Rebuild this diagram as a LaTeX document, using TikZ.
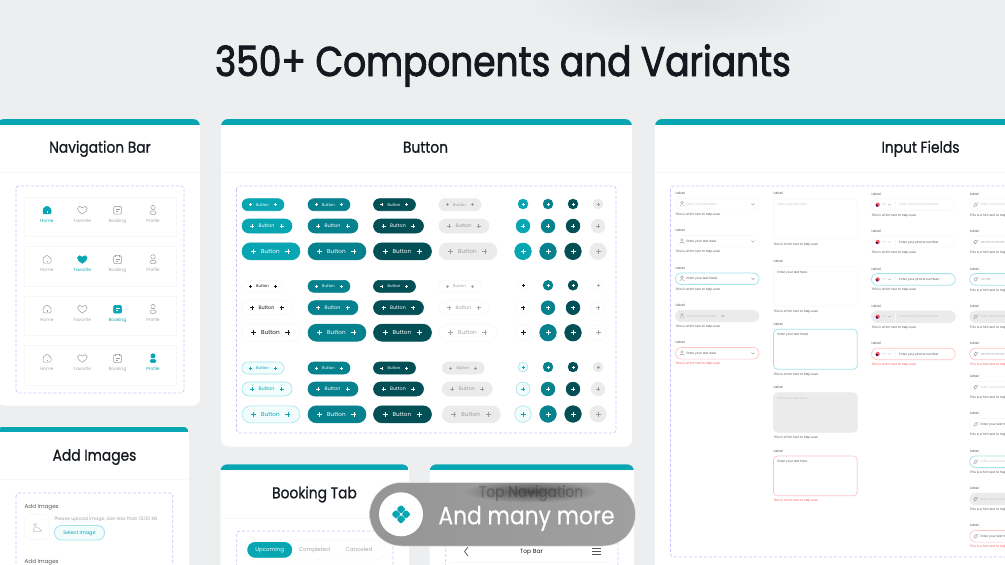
\documentclass[tikz,border=0pt]{standalone}
\usepackage{fontspec}
\usetikzlibrary{fadings}
\setmainfont{Poppins}
\newfontfamily\titlefont[FakeBold=2.2,FakeStretch=.865]{Poppins}
\newfontfamily\headfont[FakeBold=.9,FakeStretch=.88]{Poppins}
\newfontfamily\morefont[FakeBold=.3,FakeStretch=.87]{Poppins}
\definecolor{bgc}{HTML}{EDEEF0}
\definecolor{tealc}{HTML}{08A5B3}
\definecolor{midc}{HTML}{06828F}
\definecolor{darkc}{HTML}{024F55}
\definecolor{greyc}{HTML}{EBEBEB}
\definecolor{inkc}{HTML}{14181F}
\definecolor{dashc}{HTML}{D2BFFF}
\definecolor{softc}{HTML}{F8F8F8}
\definecolor{focc}{HTML}{A4E3E9}
\definecolor{errc}{HTML}{FFC6C6}
\definecolor{redc}{HTML}{F25B5B}
\definecolor{palec}{HTML}{F1FCFD}
\definecolor{mutec}{HTML}{A6A6A6}
\definecolor{lightc}{HTML}{C4C4C4}
\definecolor{iconc}{HTML}{9C9C9C}
\definecolor{textc}{HTML}{555555}
\definecolor{pillc}{HTML}{9F9F9F}
\tikzfading[name=softblob,inner color=transparent!0,outer color=transparent!100]
\newcount\nid
\newcommand\tx[6]{\global\advance\nid by 1\relax
  \node[inner sep=0pt,anchor=#1,text=#5,text height=#2*.7pt,text depth=0pt,font=\fontsize{#2}{#2}\selectfont] (t\the\nid) at (#3,#4) {#6};}
\tikzset{
  x=1pt,y=-1pt,
  zone/.style={draw=dashc,line width=.7pt,dash pattern=on 3pt off 2pt,rounded corners=3pt},
  icon1/.style={fill=tealc,draw=tealc,line width=.5pt},
  icon0/.style={draw=iconc,fill=none,line width=.5pt},
  mark1/.style={draw=white,line width=.5pt},
  mark0/.style={draw=iconc,line width=.4pt},
  soft/.style={draw=softc,line width=.6pt,fill=white},
  foc/.style={draw=focc,line width=.8pt,fill=white},
  dis/.style={draw=greyc,line width=.6pt,fill=greyc},
  err/.style={draw=errc,line width=.7pt,fill=white},
  head/.style={inner sep=0pt,anchor=base,text=inkc,font=\fontsize{15.7}{15.7}\headfont},
}
\newcommand\card[6]{
  \fill[white,rounded corners=7pt] (#1,#2) rectangle (#3,#4);
  \begin{scope}
    \clip[rounded corners=7pt] (#1,#2) rectangle (#3,#4);
    \fill[tealc] (#1,#2) rectangle (#3,#5);
  \end{scope}
  \draw[color=softc,line width=.8pt] (#1,#6) -- (#3,#6);
}
\newcommand\plusmark[4]{\draw[color=#4,line width=.5pt,shift={(#1,#2)}] (-#3,0) -- (#3,0) (0,-#3) -- (0,#3);}
\newcommand\btn[9]{
  \draw[fill=#5,draw=#6,line width=.6pt,rounded corners=#4*.5pt] (#1,#2-#4/2) rectangle (#1+#3,#2+#4/2);
  \tx{center}{#8}{#1+#3*.49}{#2}{#7}{Button}
  \plusmark{#1+#3*.2}{#2}{#9}{#7}
  \plusmark{#1+#3*.79}{#2}{#9}{#7}
}
\newcommand\btnrow[7]{
  \btn{#1}{#2}{42}{12}{#5}{#6}{#7}{3.9}{1.5}
  \btn{#1}{#3}{50}{14}{#5}{#6}{#7}{4.9}{2}
  \btn{#1}{#4}{58}{17}{#5}{#6}{#7}{5.7}{2.5}
}
\newcommand\crow[7]{
  \draw[fill=#5,draw=#6,line width=.6pt] (#1,#2) circle[radius=4.9];
  \plusmark{#1}{#2}{1.5}{#7}
  \draw[fill=#5,draw=#6,line width=.6pt] (#1,#3) circle[radius=6.9];
  \plusmark{#1}{#3}{2}{#7}
  \draw[fill=#5,draw=#6,line width=.6pt] (#1,#4) circle[radius=8.3];
  \plusmark{#1}{#4}{2.5}{#7}
}
\newcommand\icohome[3]{
  \draw[icon#3,shift={(#1,#2)},rounded corners=1pt] (-4,-1) -- (0,-4.3) -- (4,-1) -- (4,3.8) -- (-4,3.8) -- cycle;
  \draw[mark#3,shift={(#1,#2)}] (0,1.2) -- (0,2.6);
}
\newcommand\icoheart[3]{
  \draw[icon#3,shift={(#1,#2)}] (0,4) .. controls (-3,2) and (-5,0.5) .. (-4.8,-1.6) .. controls (-4.6,-4) and (-1.4,-4.4) .. (0,-2.2) .. controls (1.4,-4.4) and (4.6,-4) .. (4.8,-1.6) .. controls (5,0.5) and (3,2) .. (0,4) -- cycle;
}
\newcommand\icobook[3]{
  \draw[icon#3,shift={(#1,#2)},rounded corners=1.2pt] (-4,-3.6) rectangle (4,4.2);
  \draw[icon#3,shift={(#1,#2)}] (-1.8,-4.4) -- (-1.8,-2.8) (1.8,-4.4) -- (1.8,-2.8);
  \draw[mark#3,shift={(#1,#2)}] (-2,-.4) -- (2,-.4) (-2,1.6) -- (.6,1.6);
}
\newcommand\icoprof[3]{
  \draw[icon#3,shift={(#1,#2)}] (0,-2.4) circle[radius=2.2];
  \draw[icon#3,shift={(#1,#2)},rounded corners=1.5pt] (-3,1) rectangle (3,4.4);
}
\newcommand\navitem[5]{%
  \csname ico#3\endcsname{#1}{#2+13}{#5}
  \ifnum#5=1 \tx{center}{4.4}{#1}{#2+23.5}{tealc}{#4}\else \tx{center}{4.4}{#1}{#2+23.5}{mutec}{#4}\fi
}
\newcommand\navrow[2]{%
  \draw[soft] (24,#1) rectangle (176,#1+39.5);
  \ifnum#2=1 \navitem{47}{#1}{home}{Home}{1}\else\navitem{47}{#1}{home}{Home}{0}\fi
  \ifnum#2=2 \navitem{82.3}{#1}{heart}{Favorite}{1}\else\navitem{82.3}{#1}{heart}{Favorite}{0}\fi
  \ifnum#2=3 \navitem{117.5}{#1}{book}{Booking}{1}\else\navitem{117.5}{#1}{book}{Booking}{0}\fi
  \ifnum#2=4 \navitem{153}{#1}{prof}{Profile}{1}\else\navitem{153}{#1}{prof}{Profile}{0}\fi
}
\newcommand\hint[3]{\tx{west}{3.1}{#1}{#2}{#3}{This is a hint text to help user}}
\newcommand\personfield[6]{
  \tx{west}{3.4}{675.5}{#1-10.7}{textc}{Label}
  \draw[#2,rounded corners=5.8pt] (675.5,#1-5.8) rectangle (759,#1+5.8);
  \draw[icon0,line width=.4pt] (682,#1-1.3) circle[radius=1.4];
  \draw[icon0,line width=.4pt,rounded corners=1pt] (679.8,#1+2.4) -- (679.8,#1+1) -- (684.2,#1+1) -- (684.2,#1+2.4);
  \tx{west}{3.1}{686.3}{#1}{#3}{#4}
  \draw[icon0,line width=.4pt] (#6-1.6,#1-.8) -- (#6,#1+.8) -- (#6+1.6,#1-.8);
  \hint{675.5}{#1+10.3}{#5}
}
\newcommand\areafield[8]{%
  \tx{west}{3.4}{773.5}{#1}{textc}{Label}
  \draw[#5,rounded corners=4pt] (773.5,#2) rectangle (857.3,#3);
  \tx{west}{3.1}{777.3}{#2+5.3}{#6}{#7}
  \hint{773.5}{#4}{#8}
}
\newcommand\phonefield[5]{%
  \tx{west}{3.4}{871.5}{#1-10.5}{textc}{Label}
  \draw[#2,rounded corners=5.8pt] (871.5,#1-5.8) rectangle (955.3,#1+5.8);
  \fill[color=redc] (877.7,#1) circle[radius=2.1];
  \fill[color=blue!60!black] (877.7,#1) -- (875.6,#1) arc[start angle=180,end angle=90,radius=2.1] -- cycle;
  \tx{west}{3}{882.5}{#1}{mutec}{+1}
  \draw[icon0,line width=.3pt] (888.5,#1-.5) -- (889.5,#1+.5) -- (890.5,#1-.5);
  \draw[color=softc,line width=.5pt] (895,#1-4) -- (895,#1+4);
  \tx{west}{3.1}{899}{#1}{#3}{#4}
  \hint{871.5}{#1+10.3}{#5}
}
\newcommand\keyfield[5]{
  \tx{west}{3.4}{969.7}{#1-10.5}{textc}{Label}
  \draw[#2,rounded corners=5.8pt] (969.7,#1-5.8) rectangle (1053,#1+5.8);
  \draw[icon0,line width=.4pt] (975.7,#1) circle[radius=1.7];
  \draw[icon0,line width=.4pt] (976.5,#1-1.4) -- (978.5,#1-2) (974.5,#1+1.3) -- (973.6,#1+2.2);
  \tx{west}{3.1}{980.3}{#1}{#3}{#4}
  \hint{969.7}{#1+10.6}{#5}
}
\begin{document}
\begin{tikzpicture}
\clip (0,0) rectangle (1005,565);
\fill[bgc] (0,0) rectangle (1005,565);
\fill[color=black,opacity=.06,path fading=softblob,fit fading=true] (687,0) ellipse[x radius=170,y radius=45];
\node[inner sep=0pt,anchor=base,text=inkc,font=\fontsize{41.5}{41.5}\titlefont] (maintitle) at (503,76) {350+ Components and Variants};

% ---------- Navigation bar card
\card{-3}{119}{200}{405.5}{124.5}{172.5}
\node[head] (navtitle) at (100,152.7) {Navigation Bar};
\draw[zone] (16,186) rectangle (184,393);
\navrow{197}{1}
\navrow{246.3}{2}
\navrow{296}{3}
\navrow{345.3}{4}

% ---------- Add images card
\card{-3}{426.5}{189}{600}{432}{479.5}
\node[head] (addtitle) at (94.5,460.7) {Add Images};
\draw[zone] (16,493) rectangle (172.7,600);
\tx{west}{5.6}{24.5}{506.5}{textc}{Add Images}
\draw[soft,rounded corners=5pt] (24.5,514.5) rectangle (49.5,539.5);
\draw[icon0,color=lightc] (35,524.5) circle[radius=1.4];
\draw[icon0,color=lightc,rounded corners=1.5pt] (33.5,530.5) -- (33.5,527.5) -- (36.5,526.5) -- (41,530) -- (41,531.5) -- (33.5,531.5) -- cycle;
\tx{west}{4.7}{54.5}{518.5}{mutec}{Please upload image, size less than 10.00 KB}
\draw[foc,fill=palec,rounded corners=7pt] (54.5,525.5) rectangle (104.5,540);
\tx{center}{4.9}{79.5}{533}{tealc}{Select Image}
\tx{west}{5.6}{24.5}{561.5}{textc}{Add Images}

% ---------- Button card
\card{221}{119}{632}{446.5}{125}{172.5}
\node[head] (buttontitle) at (425.5,152.7) {Button};
\draw[zone] (236.5,186) rectangle (616,433);
\btnrow{242}{204.7}{226}{251.3}{tealc}{tealc}{white}
\btnrow{308}{204.7}{226}{251.3}{midc}{midc}{white}
\btnrow{373.5}{204.7}{226}{251.3}{darkc}{darkc}{white}
\btnrow{439}{204.7}{226}{251.3}{greyc}{greyc}{iconc}
\btnrow{242}{286.3}{307.7}{332.7}{white}{softc}{inkc}
\btnrow{308}{286.3}{307.7}{332.7}{midc}{midc}{white}
\btnrow{373.5}{286.3}{307.7}{332.7}{darkc}{darkc}{white}
\btnrow{439}{286.3}{307.7}{332.7}{white}{softc}{mutec}
\btnrow{242}{368}{389}{414.3}{palec}{focc}{tealc}
\btnrow{308}{368}{389}{414.3}{midc}{midc}{white}
\btnrow{373.5}{368}{389}{414.3}{darkc}{darkc}{white}
\btnrow{442.3}{368}{389}{414.3}{greyc}{greyc}{iconc}
\crow{523}{204}{226}{251.3}{tealc}{tealc}{white}
\crow{548}{204}{226}{251.3}{midc}{midc}{white}
\crow{573}{204}{226}{251.3}{darkc}{darkc}{white}
\crow{598}{204}{226}{251.3}{greyc}{greyc}{iconc}
\crow{523}{285.3}{307.7}{332.7}{white}{softc}{inkc}
\crow{548}{285.3}{307.7}{332.7}{midc}{midc}{white}
\crow{573}{285.3}{307.7}{332.7}{darkc}{darkc}{white}
\crow{598}{285.3}{307.7}{332.7}{white}{softc}{mutec}
\crow{523}{367}{389}{414}{palec}{focc}{tealc}
\crow{548}{367}{389}{414}{midc}{midc}{white}
\crow{573}{367}{389}{414}{darkc}{darkc}{white}
\crow{598}{367}{389}{414}{greyc}{greyc}{iconc}

% ---------- Input fields card
\card{655}{119}{1030}{600}{125}{172.5}
\node[head] (inputtitle) at (920.5,152.7) {Input Fields};
\draw[zone] (670.5,186) rectangle (1030,557);
\personfield{204}{soft}{lightc}{Enter your text here}{textc}{753}
\personfield{241.3}{soft}{textc}{Enter your text here}{textc}{753}
\personfield{278.7}{foc}{textc}{Enter your text here|}{textc}{753}
\personfield{316}{dis}{lightc}{Enter your text here}{textc}{722.7}
\personfield{353.3}{err}{textc}{Enter your text here}{redc}{753}
\areafield{193.3}{199}{238.3}{244}{soft}{lightc}{Enter your text here}{textc}
\areafield{261.3}{266.7}{306}{311}{soft}{textc}{Enter your text here}{textc}
\areafield{324.7}{329.3}{369.3}{374.3}{foc}{textc}{Enter your text here|}{textc}
\areafield{387.7}{392.7}{432.3}{437.3}{dis}{lightc}{Enter your text here}{textc}
\areafield{451}{456}{495.7}{500.7}{err}{textc}{Enter your text here}{redc}
\phonefield{204.7}{soft}{lightc}{Enter your phone number}{textc}
\phonefield{242}{soft}{textc}{Enter your phone number}{textc}
\phonefield{279.4}{foc}{textc}{Enter your phone number|}{textc}
\phonefield{316.7}{dis}{lightc}{Enter your phone number}{textc}
\phonefield{354}{err}{textc}{Enter your phone number}{redc}
\keyfield{204.7}{soft}{lightc}{Enter your text here}{textc}
\keyfield{242}{soft}{textc}{••••••••••••••••••••}{textc}
\keyfield{279.4}{foc}{textc}{•••••••|}{textc}
\keyfield{316.7}{dis}{lightc}{Enter your text here}{textc}
\keyfield{354}{err}{textc}{••••••••••••••••••••}{redc}
\keyfield{387}{soft}{lightc}{Enter your text here}{textc}
\keyfield{424.3}{soft}{textc}{Enter your text here}{textc}
\keyfield{461.7}{foc}{lightc}{Enter your text here}{textc}
\keyfield{499}{dis}{lightc}{Enter your text here}{textc}
\keyfield{536.3}{err}{textc}{Enter your text here}{redc}

% ---------- Booking tab card
\card{220.3}{464.3}{409}{600}{469.7}{518.5}
\node[head] (bookingtitle) at (314.5,498.3) {Booking Tab};
\draw[zone] (236.7,531) rectangle (393,600);
\draw[soft,rounded corners=10pt] (245,540) rectangle (385,560);
\draw[fill=tealc,draw=tealc,rounded corners=7.7pt] (247.5,542.2) rectangle (292,557.5);
\tx{center}{5.5}{269.7}{550}{white}{Upcoming}
\tx{center}{5.5}{314.5}{550}{mutec}{Completed}
\tx{center}{5.5}{359}{550}{mutec}{Canceled}

% ---------- Top navigation card
\card{429.5}{464.3}{634}{600}{469.7}{518.5}
\draw[zone] (445.7,531) rectangle (618,600);
\tx{center}{6}{531.5}{551.5}{inkc}{Top Bar}
\draw[color=textc,line width=.7pt] (468,547) -- (464.5,551.5) -- (468,556);
\draw[color=textc,line width=.7pt] (592,548) -- (600.5,548) (592,551) -- (600.5,551) (592,554) -- (600.5,554);
\draw[color=softc,line width=.8pt] (451,562) -- (612,562);

% ---------- And many more pill
\shade[left color=pillc!110!white,right color=pillc,draw=white!75!pillc,line width=.5pt,rounded corners=32pt] (369.5,482.5) rectangle (635.5,546);
\begin{scope}
  \clip[rounded corners=32pt] (369.5,482.5) rectangle (635.5,546);
  \fill[color=black,opacity=.5,path fading=softblob,fit fading=true] (531,491.5) ellipse[x radius=66,y radius=11];
  \node[head,opacity=.22] (toptitle) at (531,497) {Top Navigation};
\end{scope}
\fill[white] (401,514.3) circle[radius=22];
\foreach \dx/\dy in {-5/0,5/0,0/-5,0/5}{
  \fill[tealc,rounded corners=1.2pt,shift={(401+\dx,514.3+\dy)}] (-4.6,0) -- (0,-4.6) -- (4.6,0) -- (0,4.6) -- cycle;
}
\node[inner sep=0pt,anchor=base,text=white,font=\fontsize{25}{25}\morefont] (moretext) at (526.5,524.3) {And many more};
\end{tikzpicture}
\end{document}
